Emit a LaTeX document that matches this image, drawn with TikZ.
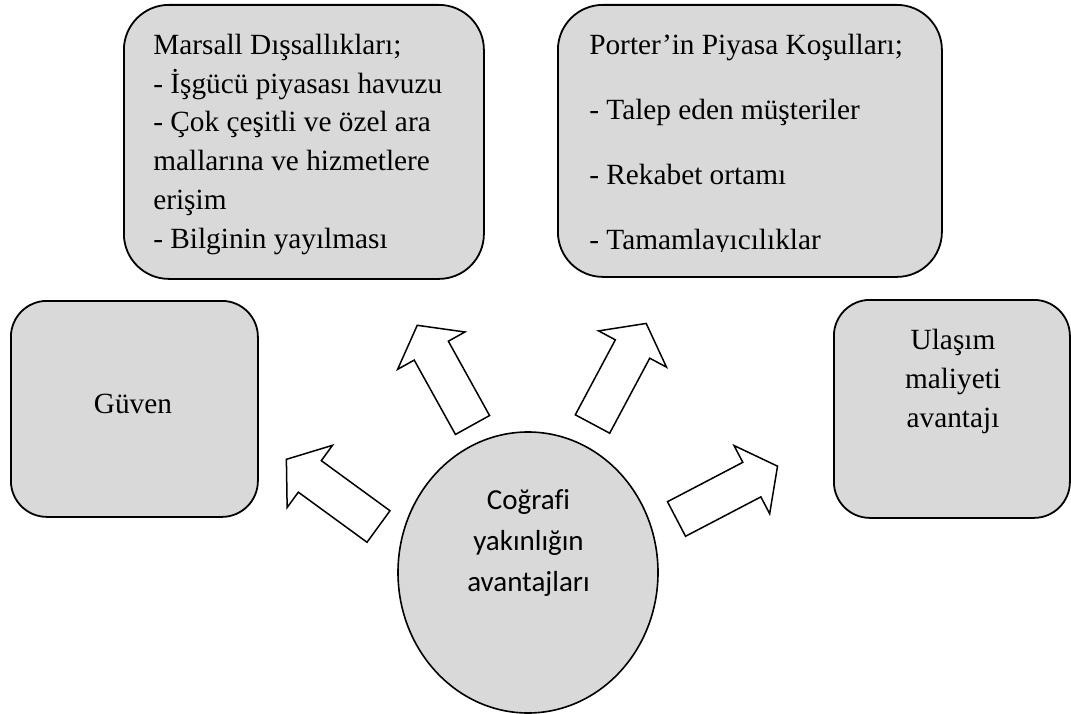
\documentclass[tikz,border=0pt]{standalone}
\usepackage{fontspec}
\setmainfont{Liberation Serif}
\newfontfamily\hubfont[Ligatures=NoCommon]{Carlito}
\usetikzlibrary{shapes.geometric}
\definecolor{boxgray}{HTML}{D9D9D9}

% block arrow: name, tail midpoint, direction angle
\newcommand{\blockarrow}[3]{%
  \draw[bigarrow, shift={#2}, rotate=#3]
    (0,0) coordinate (#1-tail)
    -- (0,-19.5) -- (85,-19.5) -- (85,-38.5) -- (114,0) coordinate (#1-tip)
    -- (85,38.5) -- (85,19.5) -- (0,19.5) -- cycle;}

\begin{document}
\begin{tikzpicture}[x=1pt,y=-1pt,
  panel/.style={draw=black, fill=boxgray, line width=1.8pt, inner sep=0pt, anchor=north west},
  bigarrow/.style={draw=black, fill=white, line width=1.5pt, line join=miter},
  txt/.style={inner sep=0pt, outer sep=0pt, font=\fontsize{29.3}{39}\selectfont},
  hubtxt/.style={inner sep=0pt, outer sep=0pt, font=\hubfont\fontsize{29}{40}\selectfont, anchor=base}]
\useasboundingbox (0,0) rectangle (1071,714);
\fill[white] (0,0) rectangle (1071,714);

% rounded panels
\node[panel, rounded corners=45pt, minimum width=360pt, minimum height=274pt] (marsall) at (123,4) {};
\node[panel, rounded corners=45pt, minimum width=384pt, minimum height=272pt] (porter) at (557,4) {};
\node[panel, rounded corners=36pt, minimum width=247pt, minimum height=216pt] (guven) at (10,300) {};
\node[panel, rounded corners=36pt, minimum width=236pt, minimum height=218pt] (ulasim) at (833,299) {};

% central ellipse
\node[draw=black, fill=boxgray, ellipse, line width=1.6pt, inner sep=0pt,
      minimum width=260pt, minimum height=281pt] (hub) at (528,572.5) {};

% panel texts
\node[txt, anchor=base west] (m1) at (153.3,54.5)  {Marsall Dışsallıkları;};
\node[txt, anchor=base west] (m2) at (153.3,93.2)  {- İşgücü piyasası havuzu};
\node[txt, anchor=base west] (m3) at (153.3,131.9) {- Çok çeşitli ve özel ara};
\node[txt, anchor=base west] (m4) at (153.3,170.6) {mallarına ve hizmetlere};
\node[txt, anchor=base west] (m5) at (153.3,209.3) {erişim};
\node[txt, anchor=base west] (m6) at (153.3,248)   {- Bilginin yayılması};

\node[txt, anchor=base west] (p1) at (589.3,55)  {Porter’in Piyasa Koşulları;};
\node[txt, anchor=base west] (p2) at (589.3,120) {- Talep eden müşteriler};
\node[txt, anchor=base west] (p3) at (589.3,185) {- Rekabet ortamı};
\begin{scope}
  \clip (557,0) rectangle (941,251.5);
  \node[txt, anchor=base west] (p4) at (589.3,250) {- Tamamlayıcılıklar};
\end{scope}

\node[txt, anchor=base] (g1) at (133,413) {Güven};

\node[txt, anchor=base] (u1) at (953,349) {Ulaşım};
\node[txt, anchor=base] (u2) at (953,388) {maliyeti};
\node[txt, anchor=base] (u3) at (953,427) {avantajı};

\node[hubtxt] (h1) at (528.5,509) {Coğrafi};
\node[hubtxt] (h2) at (528.5,550) {yakınlığın};
\node[hubtxt] (h3) at (528.5,591) {avantajları};

% block arrows from the hub towards the panels
\blockarrow{toGuven}{(378.5,526.5)}{143.9}
\blockarrow{toMarsall}{(472.5,425)}{119.0}
\blockarrow{toPorter}{(592.5,424)}{61.9}
\blockarrow{toUlasim}{(676.5,519)}{27.6}
\end{tikzpicture}
\end{document}
